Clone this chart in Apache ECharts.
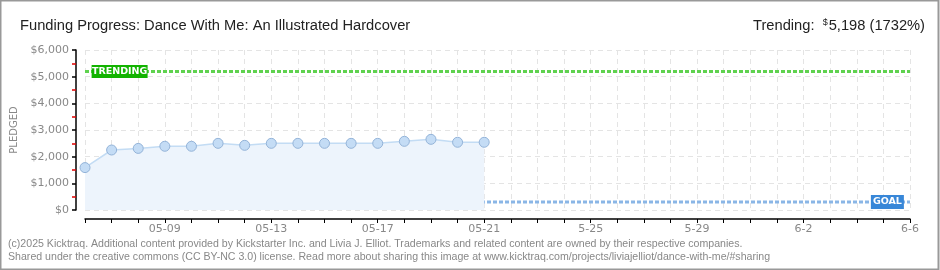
<!DOCTYPE html>
<html><head><meta charset="utf-8">
<script src="https://cdn.jsdelivr.net/npm/echarts@6/dist/echarts.min.js"></script>
<style>html,body{margin:0;padding:0;background:#fff}#c{width:940px;height:270px}</style>
</head><body><div id="c"></div>
<script>
const dates = ['05-06','05-07','05-08','05-09','05-10','05-11','05-12','05-13','05-14','05-15','05-16','05-17','05-18','05-19','05-20','05-21',
  '5-22','5-23','5-24','5-25','5-26','5-27','5-28','5-29','5-30','5-31','6-1','6-2','6-3','6-4','6-5','6-6'];
const pledged = [1590,2250,2310,2390,2390,2500,2425,2500,2500,2500,2500,2500,2575,2650,2540,2540];
const trendingValue = 5198;
const goalValue = 300;
const titleText = 'Funding Progress: Dance With Me: An Illustrated Hardcover';
const trendingText = ['Trending:  ', '$', '5,198 (1732%)'];
const footer1 = '(c)2025 Kicktraq. Additional content provided by Kickstarter Inc. and Livia J. Elliot. Trademarks and related content are owned by their respective companies.';
const footer2 = 'Shared under the creative commons (CC BY-NC 3.0) license. Read more about sharing this image at www.kicktraq.com/projects/liviajelliot/dance-with-me/#sharing';

const FONT = '"Liberation Sans Narrow","Liberation Sans",sans-serif';
const chart = echarts.init(document.getElementById('c'), null, {renderer:'canvas'});
const flat = v => dates.map(() => v);
chart.setOption({
  animation:false,
  title:[
    {text:titleText,left:15,top:13,textStyle:{fontFamily:FONT,fontSize:14.7,fontWeight:'normal',color:'#222'}},
    {text:'{a|'+trendingText[0]+'}{s|'+trendingText[1]+'}{a|'+trendingText[2]+'}',right:10,top:13,
      textStyle:{fontWeight:'normal',rich:{a:{fontFamily:FONT,fontSize:14.7,fontWeight:'normal',color:'#222'},s:{fontFamily:FONT,fontSize:9,fontWeight:'normal',color:'#222',verticalAlign:'top',padding:[0,1,6,0]}}}},
    {text:footer1,left:3,top:234,textStyle:{fontFamily:FONT,fontSize:10.6,fontWeight:'normal',color:'#888'}},
    {text:footer2,left:3,top:247,textStyle:{fontFamily:FONT,fontSize:10.6,fontWeight:'normal',color:'#888'}}
  ],
  graphic:[{type:'rect',shape:{x:0.5,y:0.5,width:938,height:269},style:{fill:'none',stroke:'#999',lineWidth:2},silent:true}],
  grid:{left:85,right:30,top:50,bottom:60},
  xAxis:{type:'category',data:dates,boundaryGap:false,offset:9,
    axisLine:{onZero:false,lineStyle:{color:'#000',width:1.5}},
    axisTick:{show:true,interval:0,length:4,lineStyle:{color:'#000'}},
    axisLabel:{interval:(i)=>i%4===3,color:'#888',fontFamily:'DejaVu Sans',fontSize:11,margin:5},
    splitLine:{show:true,interval:0,lineStyle:{color:'#e4e4e4',type:[5,4]}}},
  yAxis:{type:'value',min:0,max:6000,interval:1000,offset:9,
    axisLine:{show:true,onZero:false,lineStyle:{color:'#000',width:1.5}},
    axisTick:{show:true,length:4,lineStyle:{color:'#000',width:1.5}},
    minorTick:{show:true,splitNumber:2,length:4,lineStyle:{color:'#e00000',width:1.5}},
    axisLabel:{formatter:v=>'$'+v.toLocaleString('en-US'),color:'#888',fontFamily:'DejaVu Sans',fontSize:11,margin:7},
    splitLine:{lineStyle:{color:'#e4e4e4',type:[5,4]}},
    name:'PLEDGED',nameLocation:'middle',nameRotate:90,nameGap:42,
    nameTextStyle:{color:'#888',fontFamily:'DejaVu Sans',fontSize:10}},
  series:[
    {type:'line',data:pledged,symbol:'circle',symbolSize:10,z:5,
      lineStyle:{color:'#c3dcf4',width:1.5},
      itemStyle:{color:'#c4dcf5',borderColor:'#93b3d8',borderWidth:1},
      areaStyle:{color:'#edf4fc',opacity:1}},
    {type:'line',data:flat(trendingValue),symbol:'none',z:3,silent:true,
      lineStyle:{color:'#5fd24f',width:3,type:[4,2]},
      markPoint:{symbol:'rect',symbolSize:[56,13],symbolOffset:[8,0],
        itemStyle:{color:'#12b300'},
        label:{show:true,formatter:'TRENDING',color:'#fff',fontFamily:'DejaVu Sans',fontSize:9.5,fontWeight:'bold'},
        data:[{coord:[1,trendingValue]}]}},
    {type:'line',data:flat(goalValue),symbol:'none',z:3,silent:true,
      lineStyle:{color:'#8ab6e6',width:3,type:[4,2]},
      markPoint:{symbol:'rect',symbolSize:[33,14],symbolOffset:[4,0],
        itemStyle:{color:'#3887d8'},
        label:{show:true,formatter:'GOAL',color:'#fff',fontFamily:'DejaVu Sans',fontSize:9.5,fontWeight:'bold'},
        data:[{coord:[30,goalValue]}]}}
  ]
});
</script></body></html>
